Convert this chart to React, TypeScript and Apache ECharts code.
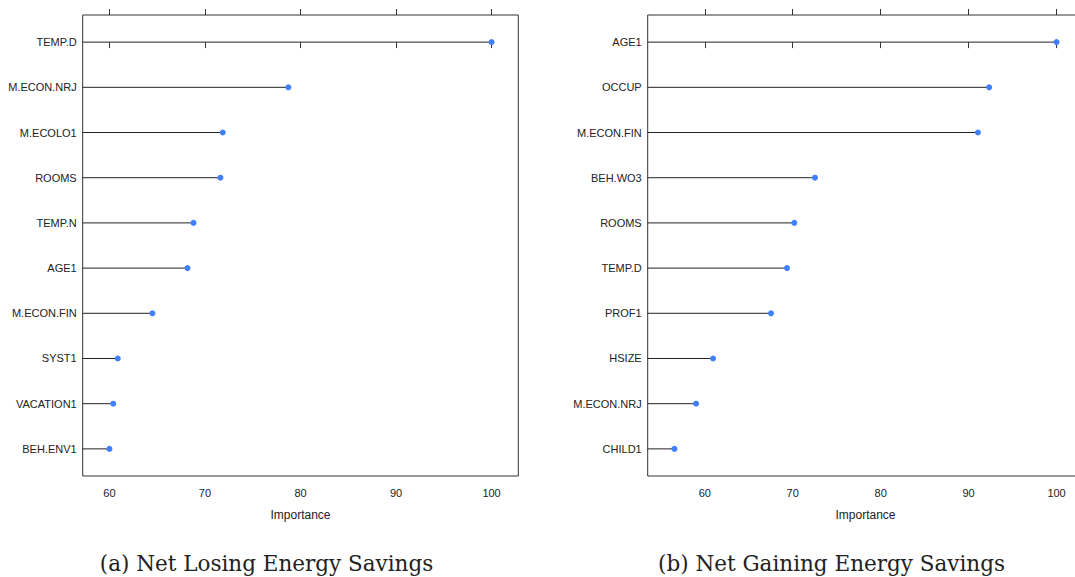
import React, { useEffect, useRef } from "react";
import * as echarts from "echarts";

const leftNames = ["TEMP.D", "M.ECON.NRJ", "M.ECOLO1", "ROOMS", "TEMP.N", "AGE1", "M.ECON.FIN", "SYST1", "VACATION1", "BEH.ENV1"];
const leftValues = [100, 78.73, 71.86, 71.62, 68.8, 68.17, 64.5, 60.87, 60.4, 60.0];

const rightNames = ["AGE1", "OCCUP", "M.ECON.FIN", "BEH.WO3", "ROOMS", "TEMP.D", "PROF1", "HSIZE", "M.ECON.NRJ", "CHILD1"];
const rightValues = [100, 92.34, 91.06, 72.53, 70.18, 69.35, 67.53, 60.94, 59.01, 56.55];

const tickValues = [60, 70, 80, 90, 100];
const captions = ["(a) Net Losing Energy Savings", "(b) Net Gaining Energy Savings"];
const axisTitle = "Importance";

const TEXT = "#222";
const BORDER = "#333";
const DOT = "#4080ff";

function extent(vals: number[]) {
  const lo = Math.min(...vals);
  const hi = Math.max(...vals);
  const pad = (hi - lo) * 0.07;
  return [lo - pad, hi + pad];
}

export default function App() {
  const ref = useRef<HTMLDivElement>(null);
  useEffect(() => {
    if (!ref.current) return;
    const chart = echarts.init(ref.current, null, { renderer: "svg" });
    const panels = [
      { names: leftNames, values: leftValues, left: 82.7 },
      { names: rightNames, values: rightValues, left: 647.7 },
    ];
    const grids: any[] = [];
    const xAxes: any[] = [];
    const yAxes: any[] = [];
    const series: any[] = [];
    const rowIdx = leftNames.map((_, i) => i);
    panels.forEach((p, pi) => {
      const [mn, mx] = extent(p.values);
      grids.push({
        left: p.left,
        top: 15,
        width: 435.6,
        height: 461,
        show: true,
        borderColor: BORDER,
        borderWidth: 1,
        backgroundColor: "transparent",
        containLabel: false,
        outerBoundsMode: "none",
      });
      xAxes.push({
        type: "value",
        gridIndex: pi,
        position: "bottom",
        min: mn,
        max: mx,
        axisLine: { show: false },
        splitLine: { show: false },
        axisTick: { show: true, customValues: tickValues, length: 6, lineStyle: { color: BORDER, width: 1 } },
        axisLabel: {
          customValues: tickValues,
          margin: 11,
          fontSize: 11,
          color: TEXT,
          fontFamily: "Liberation Sans",
        },
        name: axisTitle,
        nameLocation: "middle",
        nameGap: 33,
        nameTextStyle: { fontSize: 12, color: TEXT, fontFamily: "Liberation Sans" },
      });
      xAxes.push({
        type: "value",
        gridIndex: pi,
        position: "top",
        min: mn,
        max: mx,
        axisLine: { show: false },
        splitLine: { show: false },
        axisTick: { show: true, customValues: tickValues, length: 6, lineStyle: { color: BORDER, width: 1 } },
        axisLabel: { show: false },
      });
      yAxes.push({
        type: "value",
        gridIndex: pi,
        min: -0.6,
        max: 9.6,
        inverse: true,
        axisLine: { show: false },
        axisTick: { show: false },
        splitLine: { show: false },
        axisLabel: {
          customValues: rowIdx,
          formatter: (v: number) => p.names[Math.round(v)] ?? "",
          margin: 6,
          fontSize: 11,
          color: TEXT,
          fontFamily: "Liberation Sans",
        },
      });
      series.push({
        type: "custom",
        xAxisIndex: pi * 2,
        yAxisIndex: pi,
        data: p.names.map((_, i) => [p.values[i], i]),
        renderItem: (params: any, api: any) => {
          const v = api.value(0);
          const idx = api.value(1);
          const start = api.coord([mn, idx]);
          const end = api.coord([v, idx]);
          return {
            type: "group",
            children: [
              {
                type: "line",
                shape: { x1: start[0], y1: start[1], x2: end[0], y2: end[1] },
                style: { stroke: TEXT, lineWidth: 1 },
              },
              {
                type: "circle",
                shape: { cx: end[0], cy: end[1], r: 3 },
                style: { fill: DOT },
              },
            ],
          };
        },
      });
    });
    chart.setOption({
      animation: false,
      grid: grids,
      xAxis: xAxes,
      yAxis: yAxes,
      series,
      graphic: [
        {
          type: "text",
          x: 266.5,
          y: 563,
          style: {
            text: captions[0],
            fontFamily: "DejaVu Serif",
            fontSize: 21.5,
            fill: TEXT,
            align: "center",
            verticalAlign: "middle",
          },
        },
        {
          type: "text",
          x: 831.5,
          y: 563,
          style: {
            text: captions[1],
            fontFamily: "DejaVu Serif",
            fontSize: 21.5,
            fill: TEXT,
            align: "center",
            verticalAlign: "middle",
          },
        },
      ],
    });
    return () => chart.dispose();
  }, []);
  return (
    <div
      ref={ref}
      style={{ position: "fixed", left: 0, top: 0, width: 1075, height: 577, background: "#fff" }}
    />
  );
}
